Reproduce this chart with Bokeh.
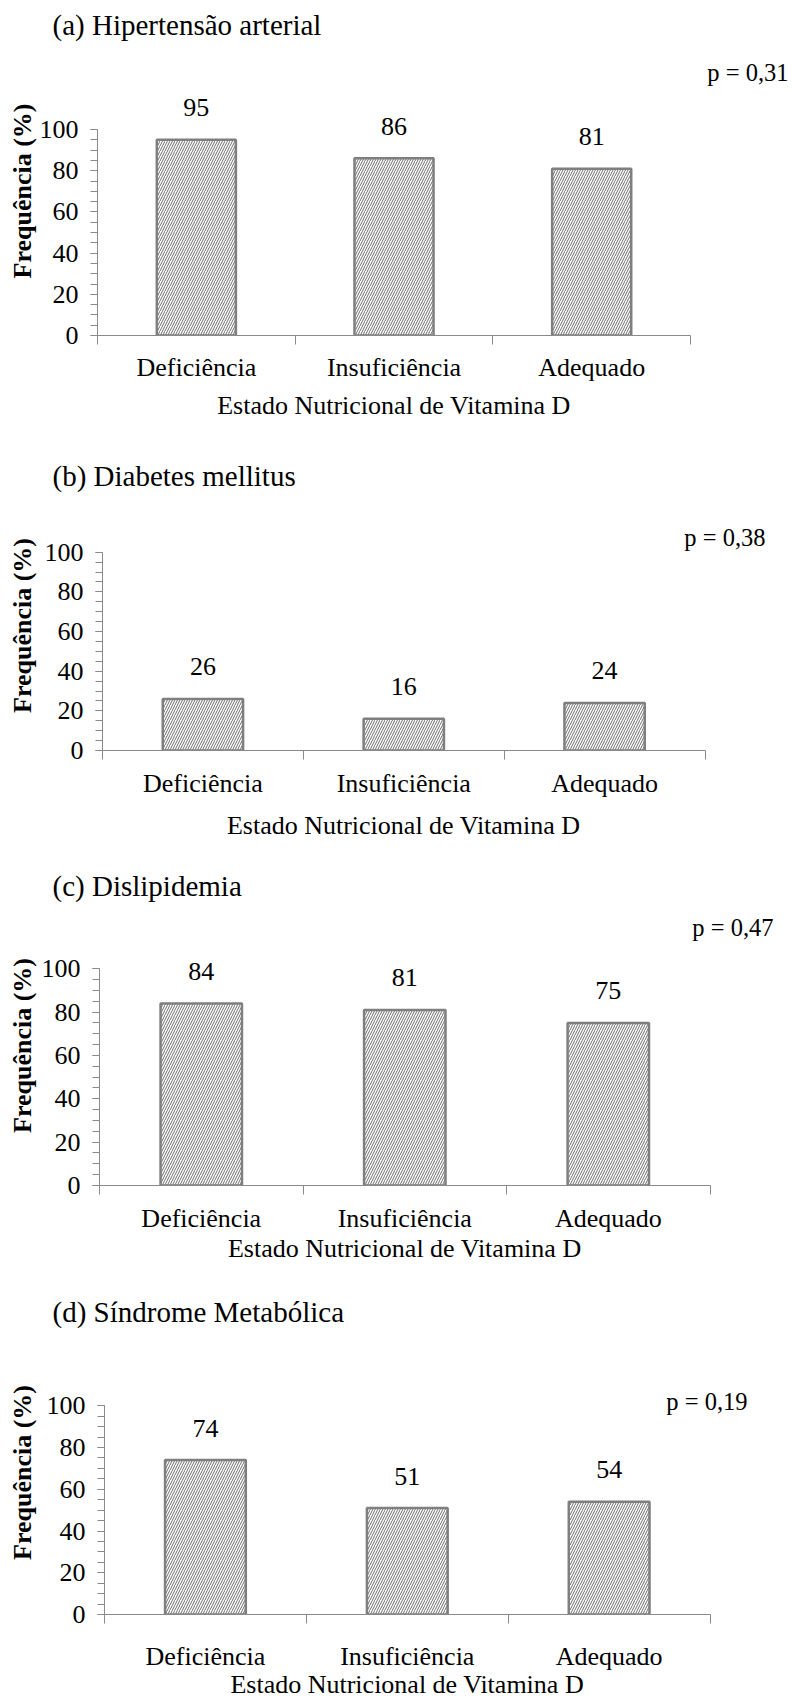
from bokeh.plotting import figure
from bokeh.models import Range1d, FixedTicker, ColumnDataSource
from bokeh.layouts import column
from bokeh.embed import file_html
from bokeh.resources import INLINE
from bokeh.core.properties import value

# ---------------- data ----------------
categories = ["Deficiência", "Insuficiência", "Adequado"]
hipertensao = [95, 86, 81]
diabetes = [26, 16, 24]
dislipidemia = [84, 81, 75]
sindrome = [74, 51, 54]
panel_titles = ["(a)  Hipertensão arterial", "(b)  Diabetes mellitus",
                "(c)  Dislipidemia", "(d)  Síndrome Metabólica"]
p_values = ["p = 0,31", "p = 0,38", "p = 0,47", "p = 0,19"]
y_ticks = [0, 20, 40, 60, 80, 100]
y_minor_step = 5
x_title = "Estado Nutricional de Vitamina D"
y_title = "Frequência (%)"

# ---------------- style / layout ----------------
FONT = "Liberation Serif"
FS = "26px"
AX = "#8a8a8a"
BAR_LINE = "#7f7f7f"
PAGE_W = 792
BB = 17  # space kept below the x axis line inside the chart figure

# page coordinates (px) of each panel: header strip / chart strip / footer strip
specs = [
    dict(htop=0, ctop=46, fbot=430, L=96.7, R=690, T=129, B=335, tx=52, ty=24,
         pr=788, py=72, lab_y=367, xt_y=405, yts=0),
    dict(htop=430, ctop=500, fbot=851, L=101.7, R=704.5, T=551.7, B=750, tx=52, ty=475,
         pr=765, py=537, lab_y=783, xt_y=825, yts=5),
    dict(htop=851, ctop=905, fbot=1270, L=99.3, R=709.6, T=968.3, B=1185, tx=52, ty=885,
         pr=773, py=927, lab_y=1218, xt_y=1248, yts=2),
    dict(htop=1270, ctop=1330, fbot=1699, L=104.3, R=709.6, T=1405.3, B=1614, tx=52, ty=1311,
         pr=747, py=1401, lab_y=1656, xt_y=1684, yts=7),
]


def blank_fig(h, x_range=None, left=0):
    p = figure(width=PAGE_W, height=h,
               x_range=x_range if x_range is not None else Range1d(0, PAGE_W),
               y_range=Range1d(0, h), x_axis_type=None, y_axis_type=None,
               title=None, toolbar_location=None, output_backend="svg",
               min_border_left=left, min_border_right=0,
               min_border_top=0, min_border_bottom=0,
               background_fill_color="white", border_fill_color="white")
    p.frame_align = False
    p.outline_line_color = None
    p.grid.visible = False
    return p


def text_kw(size=FS, align="center"):
    return dict(text_align=align, text_baseline="middle", text_font=value(FONT),
                text_font_size=size, text_color="black")


def make_panel(values, title, pval, s):
    n = len(categories)
    xs = [2 * i + 1 for i in range(n)]
    L, R, T, B = s["L"], s["R"], s["T"], s["B"]
    cbot = int(round(B)) + BB
    left = int(round(L))

    # ---- header: panel title
    hh = s["ctop"] - s["htop"]
    head = blank_fig(hh)
    head.text(x=[s["tx"]], y=[s["ctop"] - s["ty"]], text=[title], **text_kw("29px", "left"))

    # ---- chart (frame reaches the right edge; axis line bounded to the categories)
    bx = (0, 2 * n)
    x_end = bx[1] * (PAGE_W - L) / (R - L)
    x_range = Range1d(bx[0], x_end)
    y_end = y_ticks[-1] * (B - s["ctop"]) / (B - T)
    src = ColumnDataSource(dict(x=xs, top=values, label=[str(v) for v in values]))
    p = figure(width=PAGE_W, height=cbot - s["ctop"], x_range=x_range,
               y_range=Range1d(y_ticks[0], y_end),
               title=None, toolbar_location=None, output_backend="svg",
               min_border_left=left, min_border_right=0,
               min_border_top=0, min_border_bottom=BB,
               background_fill_color="white", border_fill_color="white")
    p.frame_align = False
    p.outline_line_color = None
    p.xgrid.visible = False
    p.ygrid.visible = False

    p.vbar(x="x", top="top", bottom=0, width=0.8, source=src,
           fill_color="white", line_color=BAR_LINE, line_width=2.5,
           hatch_pattern="/", hatch_color="#6e6e6e", hatch_scale=5, hatch_weight=1)
    p.text(x="x", y="top", text="label", source=src, y_offset=-32, **text_kw())
    # p value, anchored at the top-right corner of the frame
    p.text(x=[x_end], y=[y_end], text=[pval], x_offset=s["pr"] - PAGE_W,
           y_offset=s["py"] - s["ctop"], **text_kw("24.5px", "right"))

    xa = p.xaxis[0]
    ya = p.yaxis[0]
    for ax in (xa, ya):
        ax.axis_line_color = AX
        ax.axis_line_width = 1
        ax.major_tick_line_color = AX
        ax.minor_tick_line_color = AX
        ax.major_label_text_font = FONT
        ax.major_label_text_font_size = FS
        ax.major_label_text_color = "black"
        ax.axis_label_text_font = FONT
        ax.axis_label_text_font_size = FS
        ax.axis_label_text_color = "black"
    # x axis: tick marks at the category boundaries (names are drawn in the footer)
    xa.bounds = bx
    xa.ticker = FixedTicker(ticks=xs, minor_ticks=list(range(bx[0], bx[1] + 1, 2)))
    xa.major_label_overrides = {x: "" for x in xs}
    xa.major_label_text_font_size = "0px"
    xa.major_label_standoff = 0
    xa.major_tick_out = 0
    xa.major_tick_in = 0
    xa.minor_tick_out = 9
    xa.minor_tick_in = 0

    ya.bounds = (y_ticks[0], y_ticks[-1])
    ya.ticker = FixedTicker(ticks=y_ticks,
                            minor_ticks=list(range(y_ticks[0], y_ticks[-1] + 1, y_minor_step)))
    ya.major_tick_out = 7
    ya.major_tick_in = 0
    ya.minor_tick_out = 7
    ya.minor_tick_in = 0
    ya.major_label_standoff = 12
    ya.axis_label = y_title
    ya.axis_label_text_font_style = "bold"
    ya.axis_label_standoff = s["yts"]

    # ---- footer: category names and x-axis title, on the chart's x scale
    hf = s["fbot"] - cbot
    foot = blank_fig(hf, x_range=x_range, left=left)
    foot.text(x=xs, y=[hf - (s["lab_y"] - cbot)] * n, text=categories, **text_kw())
    foot.text(x=[(bx[0] + bx[1]) / 2], y=[hf - (s["xt_y"] - cbot)],
              text=[x_title], **text_kw())

    return [head, p, foot]


series = [hipertensao, diabetes, dislipidemia, sindrome]
items = []
for v, t, pv, s in zip(series, panel_titles, p_values, specs):
    items.extend(make_panel(v, t, pv, s))
layout = column(*items, spacing=0)
open("out.html", "w").write(file_html(layout, INLINE))
